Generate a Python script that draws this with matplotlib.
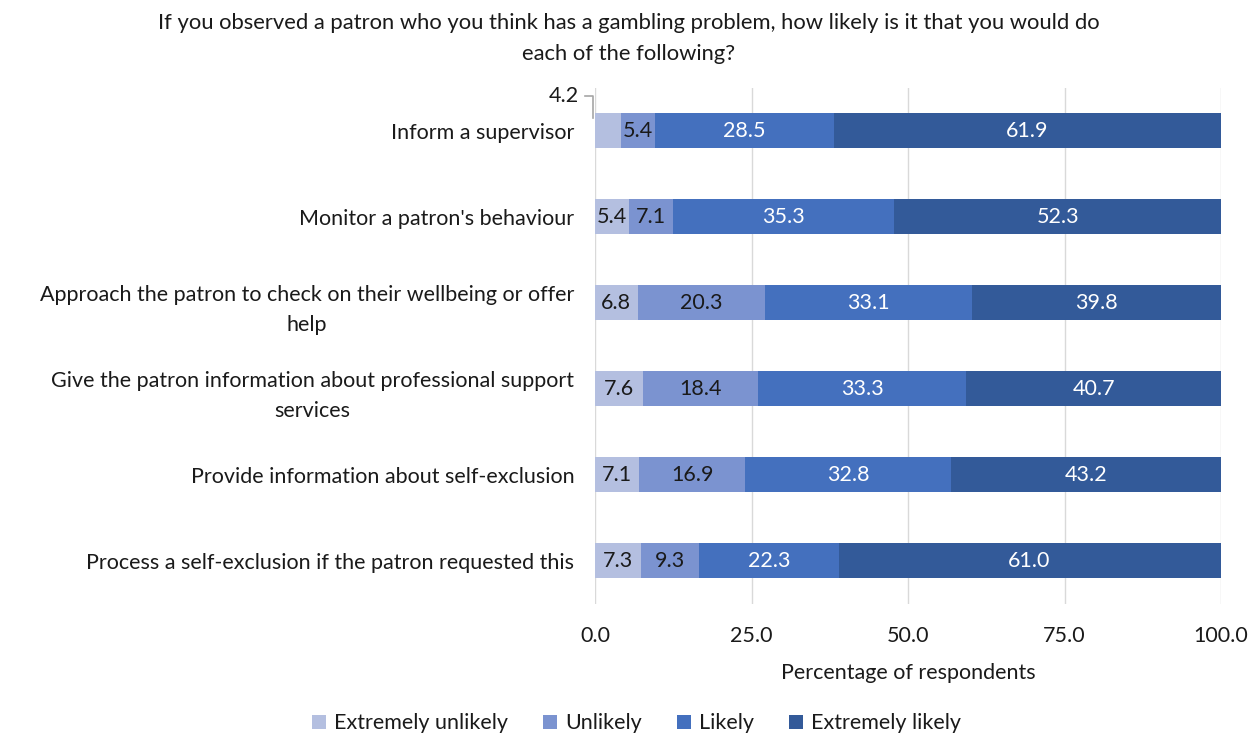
import numpy as np
import matplotlib
matplotlib.use('Agg')
import matplotlib.pyplot as plt

plt.rcParams['font.family'] = ['Lato', 'DejaVu Sans']

# Survey responses (% of respondents)
actions = [
    "Inform a supervisor",
    "Monitor a patron's behaviour",
    "Approach the patron to check on their wellbeing or offer\nhelp",
    "Give the patron information about professional support\nservices",
    "Provide information about self-exclusion",
    "Process a self-exclusion if the patron requested this",
]
responses = ["Extremely unlikely", "Unlikely", "Likely", "Extremely likely"]
extremely_unlikely = [4.2, 5.4, 6.8, 7.6, 7.1, 7.3]
unlikely = [5.4, 7.1, 20.3, 18.4, 16.9, 9.3]
likely = [28.5, 35.3, 33.1, 33.3, 32.8, 22.3]
extremely_likely = [61.9, 52.3, 39.8, 40.7, 43.2, 61.0]

series = [extremely_unlikely, unlikely, likely, extremely_likely]
colors = ['#B4BFE0', '#7B93D0', '#4470BE', '#335A99']
text_colors = ['#1a1a1a', '#1a1a1a', 'white', 'white']
FS = 15.5

fig = plt.figure(figsize=(12.58, 7.38), dpi=100)
ax = fig.add_axes([0.473, 0.182, 0.4977, 0.699])

y = np.arange(len(actions))
left = np.zeros(len(actions))
for vals, col, tcol, name in zip(series, colors, text_colors, responses):
    vals = np.array(vals)
    ax.barh(y, vals, left=left, height=0.41, color=col, label=name, zorder=3)
    for i, v in enumerate(vals):
        if v < 5:
            # too narrow: put the label above-left with a leader line
            ax.text(-2.6, y[i] - 0.4, f'{v:.1f}', ha='right', va='center',
                    fontsize=FS, color='#1a1a1a', clip_on=False)
            ax.plot([-1.6, -0.3, -0.3], [y[i] - 0.4, y[i] - 0.4, y[i] - 0.15],
                    color='#a6a6a6', lw=1.2, clip_on=False, zorder=5)
        else:
            ax.text(left[i] + v / 2, y[i], f'{v:.1f}', ha='center', va='center',
                    fontsize=FS, color=tcol, zorder=4)
    left += vals

ax.set_xlim(0, 100)
ax.set_ylim(5.5, -0.5)
ax.set_xticks([0, 25, 50, 75, 100])
ax.set_xticklabels([f'{t:.1f}' for t in [0, 25, 50, 75, 100]], fontsize=FS, color='#1a1a1a')
ax.set_yticks(y)
ax.set_yticklabels(actions, fontsize=FS, color='#1a1a1a', multialignment='center',
                   linespacing=1.65)
ax.tick_params(axis='x', length=0, pad=16)
ax.tick_params(axis='y', length=0, pad=15)
ax.grid(axis='x', color='#d9d9d9', lw=1, zorder=0)
for s in ax.spines.values():
    s.set_visible(False)
ax.set_xlabel('Percentage of respondents', fontsize=FS, color='#1a1a1a', labelpad=12)

fig.suptitle('If you observed a patron who you think has a gambling problem, how likely is it that you would do\n'
             'each of the following?', fontsize=15.8, color='#1a1a1a', y=0.982, linespacing=1.7)

fig.legend(loc='lower center', bbox_to_anchor=(0.506, -0.02), ncol=4, frameon=False,
           fontsize=FS, handlelength=0.65, handleheight=0.65, handletextpad=0.4,
           columnspacing=1.6, labelcolor='#1a1a1a')

plt.savefig('out.png', dpi=100)
